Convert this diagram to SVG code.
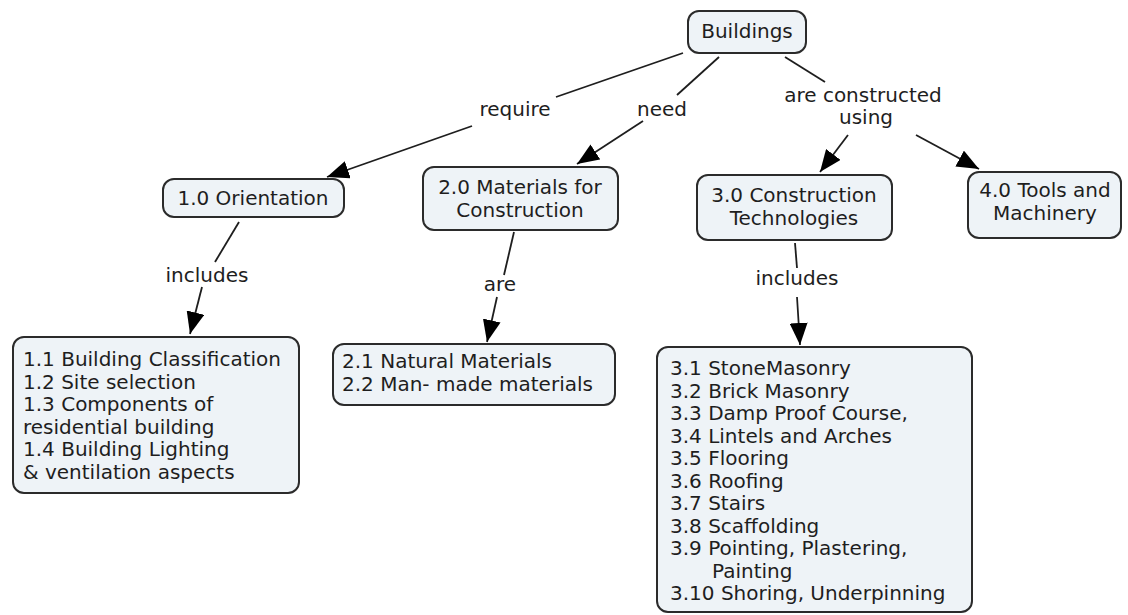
<svg xmlns="http://www.w3.org/2000/svg" width="1128" height="615" viewBox="0 0 1128 615">
<defs>
<marker id="arr" markerUnits="userSpaceOnUse" markerWidth="22" markerHeight="18" viewBox="0 0 22 18" refX="22" refY="9" orient="auto">
<path d="M0,0 L22,9 L0,18 z" fill="#000"/>
</marker>
<style>
.box{fill:#eef3f7;stroke:#2b2b2b;stroke-width:2}
.t{font-family:"DejaVu Sans","Verdana",sans-serif;font-size:20px;fill:#1e1e1e}
.c{text-anchor:middle}
.ln{stroke:#1e1e1e;stroke-width:1.8;fill:none}
.ar{marker-end:url(#arr)}
</style>
</defs>
<rect width="1128" height="615" fill="#fff"/>
<g id="connectors">
<line class="ln" x1="683" y1="53" x2="556" y2="97"/>
<line class="ln ar" x1="472" y1="126" x2="327" y2="177"/>
<line class="ln" x1="719" y1="57" x2="677" y2="95"/>
<line class="ln ar" x1="643" y1="121" x2="577" y2="164"/>
<line class="ln" x1="785" y1="57" x2="825" y2="82"/>
<line class="ln ar" x1="848" y1="135" x2="820" y2="172"/>
<line class="ln ar" x1="916" y1="135" x2="979" y2="169"/>
<line class="ln" x1="239" y1="222" x2="215" y2="262"/>
<line class="ln ar" x1="202" y1="287" x2="190" y2="334"/>
<line class="ln" x1="514" y1="232" x2="504" y2="275"/>
<line class="ln ar" x1="497" y1="297" x2="487" y2="342"/>
<line class="ln" x1="795" y1="243" x2="797" y2="268"/>
<line class="ln ar" x1="797" y1="297" x2="800" y2="345"/>
<text class="t c" x="515" y="116">require</text>
<text class="t c" x="662" y="116">need</text>
<text class="t c" x="863" y="102">are constructed</text>
<text class="t c" x="866" y="124">using</text>
<text class="t c" x="207" y="282">includes</text>
<text class="t c" x="500" y="291">are</text>
<text class="t c" x="797" y="285">includes</text>
</g>
<g id="buildings">
<rect class="box" x="688" y="11" width="118" height="42" rx="11"/>
<text class="t c" x="747" y="38">Buildings</text>
</g>
<g id="orientation">
<rect class="box" x="163" y="179" width="181" height="38" rx="11"/>
<text class="t c" x="253" y="205">1.0 Orientation</text>
</g>
<g id="materials">
<rect class="box" x="423" y="167" width="195" height="63" rx="11"/>
<text class="t c" x="520" y="194">2.0 Materials for</text>
<text class="t c" x="520" y="217">Construction</text>
</g>
<g id="construction">
<rect class="box" x="697" y="175" width="195" height="65" rx="11"/>
<text class="t c" x="794" y="202">3.0 Construction</text>
<text class="t c" x="794" y="225">Technologies</text>
</g>
<g id="tools">
<rect class="box" x="968" y="172" width="153" height="66" rx="11"/>
<text class="t c" x="1045" y="197">4.0 Tools and</text>
<text class="t c" x="1045" y="220">Machinery</text>
</g>
<g id="orientation-list">
<rect class="box" x="13" y="337" width="286" height="156" rx="11"/>
<text class="t" x="23" y="366">1.1 Building Classification</text>
<text class="t" x="23" y="388.5">1.2 Site selection</text>
<text class="t" x="23" y="411">1.3 Components of</text>
<text class="t" x="23" y="433.5">residential building</text>
<text class="t" x="23" y="456">1.4 Building Lighting</text>
<text class="t" x="23" y="478.5">&amp; ventilation aspects</text>
</g>
<g id="materials-list">
<rect class="box" x="333" y="344" width="282" height="61" rx="11"/>
<text class="t" x="342" y="368">2.1 Natural Materials</text>
<text class="t" x="342" y="391">2.2 Man- made materials</text>
</g>
<g id="construction-list">
<rect class="box" x="657" y="347" width="315" height="265" rx="11"/>
<text class="t" x="670" y="375">3.1 StoneMasonry</text>
<text class="t" x="670" y="397.5">3.2 Brick Masonry</text>
<text class="t" x="670" y="420">3.3 Damp Proof Course,</text>
<text class="t" x="670" y="442.5">3.4 Lintels and Arches</text>
<text class="t" x="670" y="465">3.5 Flooring</text>
<text class="t" x="670" y="487.5">3.6 Roofing</text>
<text class="t" x="670" y="510">3.7 Stairs</text>
<text class="t" x="670" y="532.5">3.8 Scaffolding</text>
<text class="t" x="670" y="555">3.9 Pointing, Plastering,</text>
<text class="t" x="712" y="577.5">Painting</text>
<text class="t" x="670" y="600">3.10 Shoring, Underpinning</text>
</g>
</svg>
